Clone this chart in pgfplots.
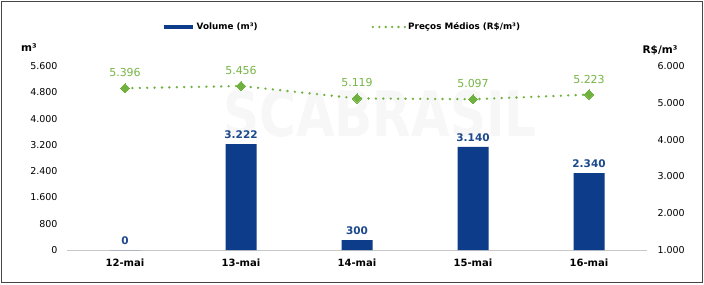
\documentclass[border=0pt]{standalone}
\usepackage{pgfplots}
\pgfplotsset{compat=1.18}
\usepackage{fontspec}
\setmainfont{DejaVu Sans}
\definecolor{barblue}{RGB}{12,60,138}
\definecolor{lblblue}{RGB}{28,72,140}
\definecolor{pgreen}{RGB}{112,178,64}
\definecolor{lgreen}{RGB}{120,182,72}
\definecolor{axgray}{RGB}{200,200,200}
\definecolor{frame}{RGB}{70,70,70}
\begin{document}
\begin{tikzpicture}[x=1pt,y=1pt]
\useasboundingbox (0,0) rectangle (704,284);
\fill[white] (0,0) rectangle (704,284);
% watermark
\node[text=black!3, font=\bfseries\fontsize{50}{50}\selectfont, yscale=1.25] at (380,170) {SCABRASIL};
% frame
\draw[frame, line width=1.5pt] (1.5,1.5) rectangle (702.5,282.5);
% axis titles
\node[font=\bfseries\fontsize{10.5}{12}\selectfont] at (29,236) {m³};
\node[font=\bfseries\fontsize{10.5}{12}\selectfont] at (660,234) {R\$/m³};

\pgfplotsset{
  every axis/.append style={
    scale only axis, width=580pt, height=184pt,
    at={(67pt,34pt)}, anchor=south west,
    xmin=-0.5, xmax=4.5,
    major tick length=0pt,
    clip=false,
    /pgf/number format/.cd, fixed, precision=0, 1000 sep={.}, assume math mode=true,
  },
}

\begin{axis}[
  ybar, bar width=31pt,
  ymin=0, ymax=5600,
  ytick={0,800,1600,2400,3200,4000,4800,5600},
  axis y line*=left,
  axis x line*=bottom,
  y axis line style={draw=none},
  x axis line style={draw=axgray, line width=1pt, -},
  xtick=data,
  xticklabels={12-mai,13-mai,14-mai,15-mai,16-mai},
  xticklabel style={font=\bfseries\fontsize{10}{12}\selectfont, yshift=-5pt},
  yticklabel style={font=\fontsize{9.5}{11}\selectfont, anchor=east, xshift=-6pt},
  nodes near coords,
  every node near coord/.append style={font=\bfseries\fontsize{10.5}{12}\selectfont, text=lblblue, yshift=2pt},
]
\addplot[fill=barblue, draw=none] coordinates {(0,0) (1,3222) (2,300) (3,3140) (4,2340)};
\end{axis}

\begin{axis}[
  ymin=1000, ymax=6000,
  ytick={1000,2000,3000,4000,5000,6000},
  axis y line*=right,
  axis x line=none,
  y axis line style={draw=none},
  yticklabel style={font=\fontsize{9.5}{11}\selectfont, anchor=west, xshift=7pt},
  legend style={draw=none, fill=none, at={(0.474,1.212)}, anchor=center,
    font=\bfseries\fontsize{8.8}{10}\selectfont, legend columns=2,
    /tikz/every even column/.append style={column sep=112pt}},
  legend cell align=left,
]
\addlegendimage{legend image code/.code={\draw[barblue, line width=4pt] (0pt,0pt) -- (29pt,0pt);}}
\addlegendentry{Volume (m³)}
\addplot[pgreen, line width=2.6pt, line cap=round, dash pattern=on 0pt off 7.4pt,
  mark=square*, mark size=3.3pt, mark options={solid, rotate=45, fill=pgreen, draw=pgreen, line width=0pt},
  nodes near coords,
  every node near coord/.append style={font=\fontsize{11}{13}\selectfont, text=lgreen, yshift=8pt},
  legend image code/.code={\draw[pgreen, line width=2.6pt, line cap=round, dash pattern=on 0pt off 6.4pt] (0pt,0pt) -- (32pt,0pt);}]
  coordinates {(0,5396) (1,5456) (2,5119) (3,5097) (4,5223)};
\addlegendentry{Preços Médios (R\$/m³)}
\end{axis}
\end{tikzpicture}
\end{document}
